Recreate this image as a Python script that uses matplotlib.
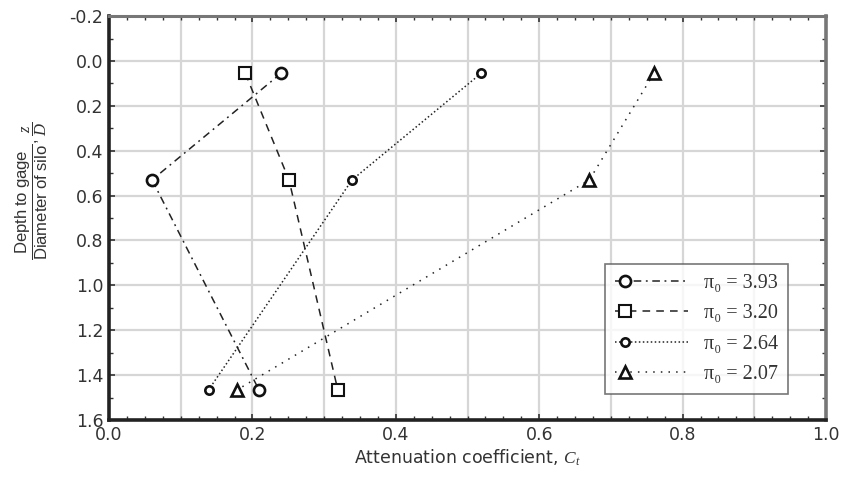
import matplotlib
matplotlib.use("Agg")
import matplotlib.pyplot as plt
from matplotlib.ticker import MultipleLocator, FormatStrFormatter
from matplotlib.legend_handler import HandlerLine2D

plt.rcParams['font.family'] = ['DejaVu Sans']
plt.rcParams['mathtext.fontset'] = 'custom'
plt.rcParams['mathtext.rm'] = 'Liberation Sans'
plt.rcParams['mathtext.it'] = 'Liberation Serif:italic'
plt.rcParams['mathtext.sf'] = 'Liberation Sans'

depth = [0.055, 0.53, 1.465]
c_393 = [0.240, 0.060, 0.209]
c_320 = [0.190, 0.251, 0.319]
c_264 = [0.519, 0.339, 0.139]
c_207 = [0.760, 0.670, 0.179]
labels = ["3.93", "3.20", "2.64", "2.07"]


class LeftMarkerHandler(HandlerLine2D):
    def create_artists(self, legend, orig_handle, xdescent, ydescent,
                       width, height, fontsize, trans):
        artists = super().create_artists(legend, orig_handle, xdescent, ydescent,
                                         width, height, fontsize, trans)
        line = artists[0]
        xd = list(line.get_xdata())
        if len(xd) == 3:
            line.set_xdata([xd[0], xd[0] + 0.14 * (xd[-1] - xd[0]), xd[-1]])
        elif len(artists) > 1:
            artists[1].set_xdata([xd[0] + 0.14 * (xd[-1] - xd[0])])
        return artists


fig = plt.figure(figsize=(8.42, 4.87), dpi=100)
ax = fig.add_axes([0.1295, 0.1376, 0.8515, 0.8294])

lc = '#222222'
lines = []
lines += ax.plot(c_393, depth, color=lc, lw=1.1, ls=(0, (5, 3, 1.2, 3)), marker='o', ms=8,
                 mfc='white', mec='#111111', mew=1.9, label="π₀ = " + labels[0])
lines += ax.plot(c_320, depth, color=lc, lw=1.1, ls=(0, (5, 4)), marker='s', ms=8.5,
                 mfc='white', mec='#111111', mew=1.5, label="π₀ = " + labels[1])
lines += ax.plot(c_264, depth, color=lc, lw=1.1, ls=(0, (1, 1.6)), marker='o', ms=6,
                 mfc='white', mec='#111111', mew=1.9, label="π₀ = " + labels[2])
lines += ax.plot(c_207, depth, color=lc, lw=1.1, ls=(0, (1, 4)), marker='^', ms=8.5,
                 mfc='white', mec='#111111', mew=1.9, label="π₀ = " + labels[3])

ax.set_xlim(0.0, 1.0)
ax.set_ylim(1.6, -0.2)
ax.xaxis.set_major_locator(MultipleLocator(0.2))
ax.xaxis.set_minor_locator(MultipleLocator(0.025))
ax.yaxis.set_major_locator(MultipleLocator(0.2))
ax.yaxis.set_minor_locator(MultipleLocator(0.1))
ax.xaxis.set_major_formatter(FormatStrFormatter('%.1f'))
ax.yaxis.set_major_formatter(FormatStrFormatter('%.1f'))

for x in [i / 10 for i in range(1, 10)]:
    ax.axvline(x, color='#d6d6d6', lw=1.6, zorder=0)
ax.grid(True, axis='y', which='major', color='#d6d6d6', lw=1.6, zorder=0)

ax.tick_params(which='both', direction='in', top=True, right=True, labelsize=12.5,
               colors='#333333', labelcolor='#333333')
ax.tick_params(which='major', length=4, width=1.2, pad=4)
ax.tick_params(which='minor', length=3, width=1.0)

ax.spines['left'].set_linewidth(2.6)
ax.spines['bottom'].set_linewidth(2.6)
ax.spines['left'].set_color('#222222')
ax.spines['bottom'].set_color('#222222')
ax.spines['top'].set_linewidth(2.2)
ax.spines['right'].set_linewidth(2.6)
ax.spines['top'].set_color('#777777')
ax.spines['right'].set_color('#777777')

ax.set_xlabel(r"Attenuation coefficient, $C_t$", fontsize=12.5, color='#333333', labelpad=3)
ax.set_ylabel(r"$\dfrac{\mathrm{Depth\ to\ gage}}{\mathrm{Diameter\ of\ silo}}\mathrm{,}\ \dfrac{z}{D}$",
              fontsize=12, color='#333333', labelpad=14)
ax.yaxis.label.set_y(0.568)

leg = ax.legend(handles=lines, loc='upper left', bbox_to_anchor=(0.692, 0.386),
                frameon=True, fancybox=False, edgecolor='#555555', handlelength=3.6,
                handletextpad=0.8, borderpad=0.5, labelspacing=0.55, borderaxespad=0,
                handler_map={l: LeftMarkerHandler() for l in lines},
                prop={'family': ['Liberation Serif', 'DejaVu Serif'], 'size': 14.5})
leg.get_frame().set_linewidth(1.2)
for t in leg.get_texts():
    t.set_color('#333333')

fig.savefig("out.png", dpi=100)
